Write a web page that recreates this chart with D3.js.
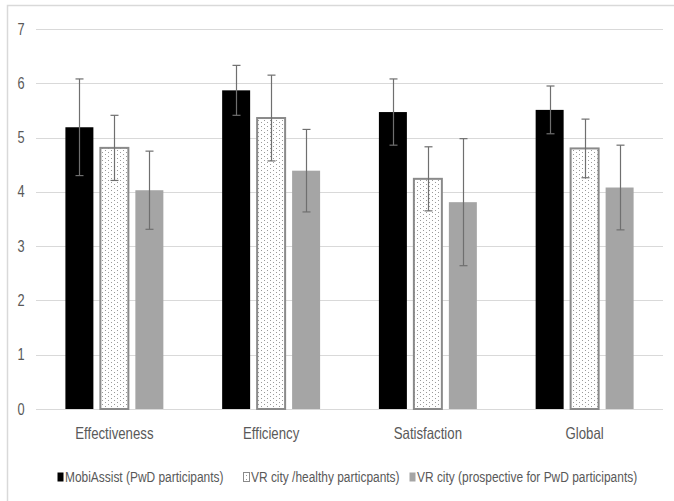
<!DOCTYPE html>
<html>
<head>
<meta charset="utf-8">
<script src="https://cdn.jsdelivr.net/npm/d3@7"></script>
<style>
  body { margin: 0; background: #fff; }
  svg text { font-family: "Liberation Sans", Arial, sans-serif; }
</style>
</head>
<body>
<svg id="chart" width="674" height="501"></svg>
<script>
// categories + series
var categories = ["Effectiveness", "Efficiency", "Satisfaction", "Global"];
var seriesNames = ["MobiAssist (PwD participants)", "VR city /healthy particpants)", "VR city (prospective for PwD participants)"];
var mobiMean = [5.19, 5.87, 5.47, 5.51];
var mobiErr  = [0.89, 0.46, 0.61, 0.44];
var healthyMean = [4.81, 5.36, 4.24, 4.80];
var healthyErr  = [0.60, 0.79, 0.59, 0.54];
var prospMean = [4.03, 4.39, 3.81, 4.08];
var prospErr  = [0.72, 0.76, 1.17, 0.78];
var yTicks = [0, 1, 2, 3, 4, 5, 6, 7];

var series = [
    {name: seriesNames[0], mean: mobiMean, err: mobiErr, fill: "#000000", stroke: "none"},
    {name: seriesNames[1], mean: healthyMean, err: healthyErr, fill: "url(#dots)", stroke: "#8a8a8a"},
    {name: seriesNames[2], mean: prospMean, err: prospErr, fill: "#a5a5a5", stroke: "none"}
];

var NARROW = 0.8; // no Arial Narrow installed, squeeze the glyphs instead

var svg = d3.select("#chart");

// chart area border
svg.append("rect")
    .attr("x", 7.5).attr("y", 5.5)
    .attr("width", 680).attr("height", 520)
    .style("fill", "none")
    .style("stroke", "#d9d9d9")
    .style("stroke-width", 1.5);

// dotted pattern for the healthy series
var pat = svg.append("defs").append("pattern")
    .attr("id", "dots")
    .attr("patternUnits", "userSpaceOnUse")
    .attr("width", 6).attr("height", 4);
pat.append("rect").attr("width", 6).attr("height", 4).style("fill", "#fff");
pat.append("rect").attr("x", 0).attr("y", 0).attr("width", 1).attr("height", 1).style("fill", "#9a9a9a");
pat.append("rect").attr("x", 3).attr("y", 2).attr("width", 1).attr("height", 1).style("fill", "#9a9a9a");

var plot = {left: 36, right: 663, top: 29, bottom: 409};

var y = d3.scaleLinear().domain([0, 7]).range([plot.bottom, plot.top]);
var x0 = d3.scaleBand().domain(categories).range([plot.left, plot.right]).paddingInner(0).paddingOuter(0);
var x1 = d3.scaleBand().domain(d3.range(series.length))
    .range([29.4, x0.bandwidth() - 29.4]).paddingInner(0.2).paddingOuter(0);

// gridlines
svg.append("g").selectAll("line").data(yTicks).join("line")
    .attr("x1", plot.left).attr("x2", plot.right)
    .attr("y1", function(d){ return Math.round(y(d)) + 0.5; })
    .attr("y2", function(d){ return Math.round(y(d)) + 0.5; })
    .style("stroke", "#d9d9d9")
    .style("stroke-width", 1);

// y axis labels
var yAxis = d3.axisLeft(y).tickValues(yTicks).tickFormat(d3.format("d")).tickSize(0).tickPadding(0);
var gy = svg.append("g").attr("transform", "translate(21,0)").call(yAxis);
gy.select(".domain").remove();
gy.selectAll("text")
    .attr("x", 0)
    .attr("transform", "scale(" + NARROW + ",1)")
    .style("text-anchor", "middle")
    .style("font-size", "16px")
    .style("fill", "#595959");

// bars
var groups = svg.append("g").selectAll("g").data(series).join("g");
groups.selectAll("rect").data(function(s, si){
        return categories.map(function(c, i){ return {cat: c, v: s.mean[i], e: s.err[i], si: si, s: s}; });
    }).join("rect")
    .attr("x", function(d){ return x0(d.cat) + x1(d.si); })
    .attr("width", x1.bandwidth())
    .attr("y", function(d){ return y(d.v); })
    .attr("height", function(d){ return y(0) - y(d.v); })
    .style("fill", function(d){ return d.s.fill; })
    .style("stroke", function(d){ return d.s.stroke; })
    .style("stroke-width", 2);

// error bars
var errG = svg.append("g");
series.forEach(function(s, si){
    categories.forEach(function(c, i){
        var cx = Math.round(x0(c) + x1(si) + x1.bandwidth() / 2) + 0.5;
        var hi = y(s.mean[i] + s.err[i]);
        var lo = y(s.mean[i] - s.err[i]);
        errG.append("line").attr("x1", cx).attr("x2", cx).attr("y1", hi).attr("y2", lo);
        errG.append("line").attr("x1", cx - 4).attr("x2", cx + 4).attr("y1", hi).attr("y2", hi);
        errG.append("line").attr("x1", cx - 4).attr("x2", cx + 4).attr("y1", lo).attr("y2", lo);
    });
});
errG.selectAll("line").style("stroke", "#6f6f6f").style("stroke-width", 1.2);

// category labels
var xAxis = d3.axisBottom(x0).tickSize(0).tickPadding(0);
var gx = svg.append("g").attr("transform", "translate(0,433)").call(xAxis);
gx.select(".domain").remove();
gx.selectAll("text")
    .attr("y", 0)
    .attr("dy", "0.35em")
    .attr("transform", "scale(" + NARROW + ",1)")
    .style("font-size", "16.5px")
    .style("fill", "#595959");

// legend
var legendX = [57, 243, 409];
var leg = svg.append("g").selectAll("g").data(series).join("g")
    .attr("transform", function(d, i){ return "translate(" + legendX[i] + ",477)"; });
leg.append("rect")
    .attr("x", 0.5).attr("y", -4.5)
    .attr("width", 6).attr("height", 9)
    .style("fill", function(d){ return d.fill; })
    .style("stroke", function(d){ return d.stroke; })
    .style("stroke-width", 1);
leg.append("text")
    .attr("transform", "translate(8,0) scale(0.77,1)")
    .attr("dy", "0.35em")
    .style("font-size", "15.5px")
    .style("fill", "#595959")
    .text(function(d){ return d.name; });
</script>
</body>
</html>
